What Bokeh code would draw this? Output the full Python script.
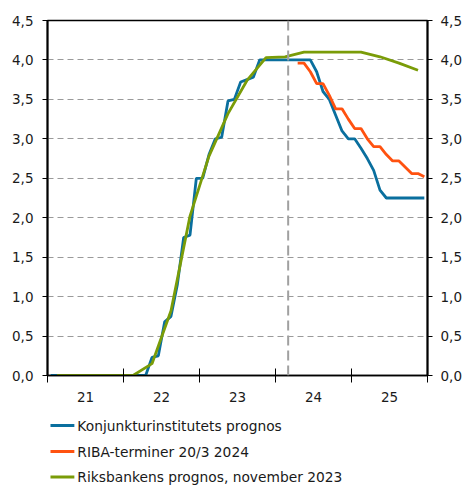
from bokeh.plotting import figure
from bokeh.layouts import column
from bokeh.models import (FixedTicker, LinearAxis, CustomJSTickFormatter, Span, Range1d)
from bokeh.core.properties import value
from bokeh.embed import file_html
from bokeh.resources import INLINE

# ---- data ----
# Konjunkturinstitutets prognos, monthly Jan 2021 .. Dec 2025
ki_values = [0, 0, 0, 0, 0, 0, 0, 0, 0, 0, 0, 0,            # 2021
             0, 0, 0, 0, 0.23, 0.25, 0.68, 0.75, 1.15, 1.75, 1.78, 2.5,   # 2022
             2.5, 2.8, 3.0, 3.02, 3.48, 3.5, 3.72, 3.75, 3.78, 4.0, 4.0, 4.0,  # 2023
             4.0, 4.0, 4.0, 4.0, 4.0, 4.0, 3.85, 3.6, 3.5, 3.3, 3.1, 3.0,  # 2024
             3.0, 2.88, 2.75, 2.6, 2.35, 2.25, 2.25, 2.25, 2.25, 2.25, 2.25, 2.25]  # 2025
# RIBA-terminer 20/3 2024, monthly Apr 2024 .. Dec 2025
riba_start_month = 39
riba_values = [3.96, 3.96, 3.85, 3.7, 3.7, 3.55, 3.38, 3.38, 3.25,
               3.13, 3.13, 3.0, 2.9, 2.9, 2.8, 2.72, 2.72, 2.64, 2.56, 2.56, 2.52]
# Riksbankens prognos, november 2023, quarterly Q1 2021 .. Q4 2025
rb_values = [0, 0, 0, 0, 0, 0.15, 0.82, 2.02, 2.78, 3.32, 3.74, 4.03,
             4.04, 4.1, 4.1, 4.1, 4.1, 4.04, 3.96, 3.87]

start_year = 2021
year_labels = [2021, 2022, 2023, 2024, 2025]
y_ticks = [0, 0.5, 1.0, 1.5, 2.0, 2.5, 3.0, 3.5, 4.0, 4.5]
divider_x = 2024 + 2 / 12

series_names = ["Konjunkturinstitutets prognos", "RIBA-terminer 20/3 2024",
                "Riksbankens prognos, november 2023"]
colors = ["#0a6f9e", "#ff5210", "#7a9c08"]

ki_x = [start_year + (m + 0.5) / 12 for m in range(len(ki_values))]
riba_x = [start_year + (riba_start_month + i + 0.5) / 12 for i in range(len(riba_values))]
rb_x = [start_year + (3 * q + 1.5) / 12 for q in range(len(rb_values))]

FONT = "DejaVu Sans"
FS = "13.5px"
TXT = "#1a1a1a"

p = figure(frame_width=380, frame_height=355, output_backend="svg", toolbar_location=None,
           x_range=Range1d(2021, 2026), y_range=Range1d(0, 4.5),
           min_border_left=47, min_border_top=20, min_border_right=35,
           min_border_bottom=32, y_axis_location=None, x_axis_location=None)
p.background_fill_color = "white"
p.border_fill_color = "white"
p.outline_line_color = "black"
p.outline_line_width = 1.5

# x axis: labels mid-year, ticks at year boundaries
xax = LinearAxis(ticker=FixedTicker(ticks=[y + 0.5 for y in year_labels],
                                    minor_ticks=year_labels + [year_labels[-1] + 1]),
                 formatter=CustomJSTickFormatter(code="return String(Math.floor(tick) % 100);"))
xax.major_tick_in = 0
xax.major_tick_out = 0
xax.minor_tick_in = 7
xax.minor_tick_out = 7
xax.minor_tick_line_color = "black"
xax.axis_line_color = "black"
xax.axis_line_width = 1.5
xax.major_label_standoff = 9
xax.major_label_text_font = FONT
xax.major_label_text_font_size = FS
xax.major_label_text_color = TXT
p.add_layout(xax, "below")

yfmt = CustomJSTickFormatter(code="return tick.toFixed(1).replace('.', ',');")
for side in ("left", "right"):
    ax = LinearAxis(ticker=FixedTicker(ticks=y_ticks, minor_ticks=[]), formatter=yfmt)
    ax.major_tick_in = 0
    ax.major_tick_out = 5
    ax.major_tick_line_color = "black"
    ax.axis_line_color = "black"
    ax.axis_line_width = 2
    ax.major_label_standoff = 9 if side == "left" else 8
    ax.major_label_text_font = FONT
    ax.major_label_text_font_size = FS
    ax.major_label_text_color = TXT
    p.add_layout(ax, side)

p.xgrid.visible = False
p.ygrid.ticker = FixedTicker(ticks=y_ticks[1:-1])
p.ygrid.grid_line_color = "#9a9a9a"
p.ygrid.grid_line_dash = "6 4"
p.ygrid.grid_line_width = 1.2

p.add_layout(Span(location=divider_x, dimension="height", line_color="#a0a0a0",
                  line_width=2, line_dash="10 5"))

p.line(ki_x, ki_values, line_color=colors[0], line_width=2.8)
p.line(riba_x, riba_values, line_color=colors[1], line_width=2.8)
p.line(rb_x, rb_values, line_color=colors[2], line_width=2.8)

# legend below the chart, in its own strip (its frame is aligned with the chart frame;
# ranges are in screen pixels relative to that frame, y downwards)
lg = figure(width=462, height=79, output_backend="svg", toolbar_location=None,
            x_range=Range1d(0, 380), y_range=Range1d(79, 0),
            min_border=0, x_axis_location=None, y_axis_location=None)
lg.outline_line_color = None
lg.grid.visible = False
lg.background_fill_color = "white"
lg.border_fill_color = "white"
row_y = [18, 44, 69.5]
lg.segment(x0=[3] * 3, y0=row_y, x1=[27] * 3, y1=row_y, line_color=colors, line_width=3)
lg.text(x=[30] * 3, y=row_y, text=series_names, text_font=value(FONT),
        text_font_size="13.8px", text_color=TXT, text_baseline="middle", text_align="left")

layout = column(p, lg, spacing=0)
open("out.html", "w").write(file_html(layout, INLINE))
